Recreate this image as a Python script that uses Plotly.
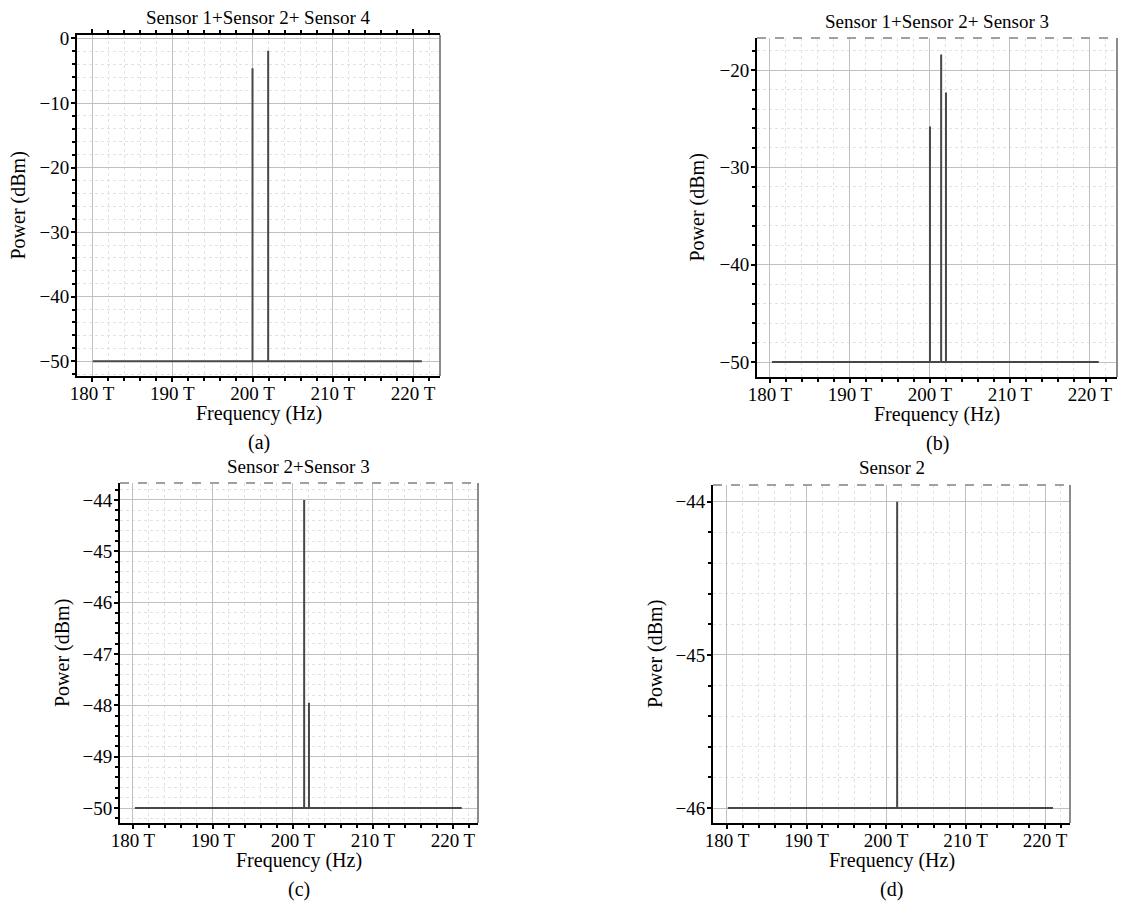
import plotly.graph_objects as go

W, H = 1121, 902

# ---------------- data ----------------
panel_titles = ["Sensor 1+Sensor 2+ Sensor 4", "Sensor 1+Sensor 2+ Sensor 3",
                "Sensor 2+Sensor 3", "Sensor 2"]
panel_labels = ["(a)", "(b)", "(c)", "(d)"]
x_label = "Frequency (Hz)"
y_label = "Power (dBm)"
x_tick_vals = [180, 190, 200, 210, 220]
x_tick_text = ["180 T", "190 T", "200 T", "210 T", "220 T"]

baseline_start = [180.1, 180.25, 180.25, 180.1]
baseline_end = [221.1, 221.1, 221.1, 221.0]
noise_floor = [-50, -50, -50, -46]

peak_freq_a = [200.0, 201.95]
peak_power_a = [-4.6, -1.9]
peak_freq_b = [200.0, 201.4, 202.0]
peak_power_b = [-25.8, -18.4, -22.3]
peak_freq_c = [201.4, 202.0]
peak_power_c = [-44.0, -47.95]
peak_freq_d = [201.4]
peak_power_d = [-44.0]

y_ticks_a = [0, -10, -20, -30, -40, -50]
y_ticks_b = [-20, -30, -40, -50]
y_ticks_c = [-44, -45, -46, -47, -48, -49, -50]
y_ticks_d = [-44, -45, -46]

peak_freqs = [peak_freq_a, peak_freq_b, peak_freq_c, peak_freq_d]
peak_powers = [peak_power_a, peak_power_b, peak_power_c, peak_power_d]
y_ticks = [y_ticks_a, y_ticks_b, y_ticks_c, y_ticks_d]

# ---------------- layout (pixel boxes) ----------------
boxes = [(77, 440, 35, 376), (757, 1117, 38, 377), (120, 478, 483, 823), (713, 1070, 485, 823)]
x_ranges = [[178.13, 223.36], [178.38, 223.38], [178.38, 223.13], [178.24, 223.14]]
y_ranges = [[-52.3, 0.54], [-51.54, -16.7], [-50.29, -43.67], [-46.098, -43.89]]
y_minor = [2, 2, 0.2, 0.2]

FONT = "Liberation Serif, Times New Roman, serif"
fig = go.Figure()
layout = dict(
    width=W, height=H, margin=dict(l=0, r=0, t=0, b=0, autoexpand=False),
    paper_bgcolor="white", plot_bgcolor="white", showlegend=False,
    font=dict(family=FONT, size=19, color="black"),
)
shapes = []
annotations = []

for i in range(4):
    sfx = "" if i == 0 else str(i + 1)
    x0, x1, y0, y1 = boxes[i]
    # build trace from data
    xs = [baseline_start[i]]
    ys = [noise_floor[i]]
    for f, p in sorted(zip(peak_freqs[i], peak_powers[i])):
        xs += [f, f, f]
        ys += [noise_floor[i], p, noise_floor[i]]
    xs.append(baseline_end[i])
    ys.append(noise_floor[i])
    fig.add_trace(go.Scatter(x=xs, y=ys, mode="lines", xaxis="x" + sfx, yaxis="y" + sfx,
                             line=dict(color="#474747", width=2), hoverinfo="skip"))

    layout["xaxis" + sfx] = dict(
        domain=[x0 / W, x1 / W], anchor="y" + sfx, range=x_ranges[i], automargin=False,
        tickmode="array", tickvals=x_tick_vals, ticktext=x_tick_text,
        showline=True, linecolor="black", linewidth=2,
        mirror="ticks" if i == 0 else False,
        ticks="outside", ticklen=4, tickwidth=2, tickcolor="black",
        ticklabelstandoff=-5,
        showgrid=True, gridcolor="#c0c0c0", gridwidth=1, zeroline=False,
        tickfont=dict(family=FONT, size=19),
        minor=dict(tick0=180, dtick=2, showgrid=True, gridcolor="#e2e2e2", griddash="dot",
                   ticks="outside", ticklen=3, tickwidth=2, tickcolor="black"),
    )
    layout["yaxis" + sfx] = dict(
        domain=[1 - y1 / H, 1 - y0 / H], anchor="x" + sfx, range=y_ranges[i], automargin=False,
        tickmode="array", tickvals=y_ticks[i],
        showline=True, linecolor="black", linewidth=2, mirror=False,
        ticks="outside", ticklen=4, tickwidth=2, tickcolor="black",
        ticklabelstandoff=-2,
        showgrid=True, gridcolor="#c0c0c0", gridwidth=1, zeroline=False,
        tickfont=dict(family=FONT, size=19),
        minor=dict(tick0=0, dtick=y_minor[i], showgrid=True, gridcolor="#e2e2e2", griddash="dot",
                   ticks="outside", ticklen=3, tickwidth=2, tickcolor="black"),
    )
    # right border
    shapes.append(dict(type="line", xref="x" + sfx + " domain", yref="y" + sfx + " domain",
                       x0=1, x1=1, y0=0, y1=1, line=dict(color="#8c8c8c", width=2)))
    if i > 0:
        shapes.append(dict(type="line", xref="x" + sfx + " domain", yref="y" + sfx + " domain",
                           x0=0, x1=1, y0=1, y1=1, line=dict(color="#a0a0a0", width=2, dash="dash")))

    cx = (x0 + x1) / 2
    annotations.append(dict(text=panel_titles[i], x=cx / W, y=1 - (y0 - 17) / H,
                            xref="paper", yref="paper", showarrow=False,
                            xanchor="center", yanchor="middle", font=dict(family=FONT, size=19)))
    annotations.append(dict(text=x_label, x=cx / W, y=1 - (y1 + 37) / H,
                            xref="paper", yref="paper", showarrow=False,
                            xanchor="center", yanchor="middle", font=dict(family=FONT, size=20)))
    annotations.append(dict(text=panel_labels[i], x=cx / W, y=1 - (y1 + 66) / H,
                            xref="paper", yref="paper", showarrow=False,
                            xanchor="center", yanchor="middle", font=dict(family=FONT, size=20)))

ylab_x = [18, 697, 62, 655]
for i in range(4):
    x0, x1, y0, y1 = boxes[i]
    annotations.append(dict(text=y_label, x=ylab_x[i] / W, y=1 - ((y0 + y1) / 2) / H,
                            xref="paper", yref="paper", showarrow=False, textangle=-90,
                            xanchor="center", yanchor="middle", font=dict(family=FONT, size=20)))

layout["shapes"] = shapes
layout["annotations"] = annotations
fig.update_layout(**layout)
fig.write_html("out.html", config={"displayModeBar": False},
               post_script="document.body.style.margin='0';document.body.style.padding='0';")
